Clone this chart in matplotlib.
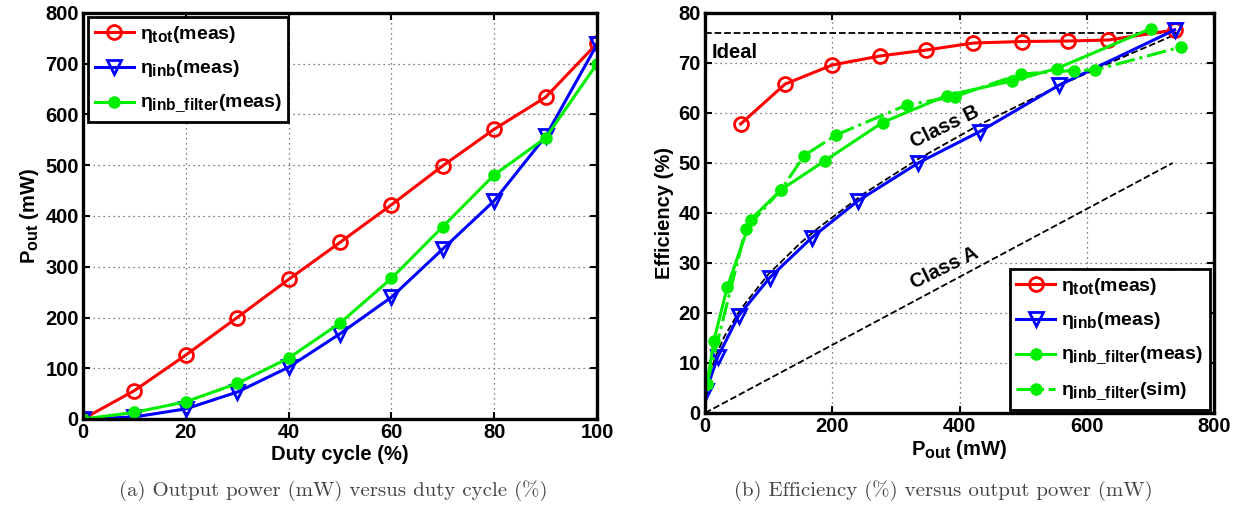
import numpy as np
import matplotlib
matplotlib.use('Agg')
import matplotlib.pyplot as plt
import matplotlib._mathtext as mt

mt.SHRINK_FACTOR = 0.8   # bigger sub-scripts, closer to the original

# ---- data ----
duty = [0, 10, 20, 30, 40, 50, 60, 70, 80, 90, 100]
p_tot = [0, 56, 126, 200, 275, 348, 422, 499, 571, 634, 740]
p_inb = [0, 4, 20, 53, 102, 168, 240, 335, 430, 557, 738]
p_filt = [0, 13, 34, 70, 120, 189, 277, 379, 481, 554, 700]

pout_tot = [56, 126, 200, 275, 348, 422, 499, 571, 634, 738]
eff_tot = [57.8, 65.8, 69.6, 71.4, 72.6, 74.0, 74.3, 74.4, 74.6, 76.6]
pout_inb = [2, 20, 53, 102, 168, 240, 335, 432, 557, 738]
eff_inb = [4.5, 11.2, 19.5, 27.1, 35.1, 42.4, 50.0, 56.3, 65.6, 76.6]
pout_filt = [3, 14, 35, 72, 120, 189, 279, 380, 482, 553, 701]
eff_filt = [5.8, 14.5, 25.2, 38.7, 44.7, 50.5, 58.1, 63.5, 66.4, 68.9, 76.9]
pout_sim = [3, 64, 120, 156, 206, 317, 393, 496, 580, 613, 748]
eff_sim = [5.8, 36.8, 44.7, 51.5, 55.6, 61.6, 63.3, 67.8, 68.5, 68.6, 73.2]

# theoretical curves
ideal_x = [0, 745]
ideal_y = [76.1, 76.1]
classb_x = [0, 5, 15, 30, 55, 100, 150, 178, 250, 335, 432, 557, 650, 745]
classb_y = [0, 6.2, 10.8, 15.2, 20.6, 27.8, 34.0, 37.0, 43.9, 50.8, 57.7, 65.5, 70.8, 76.0]
classa_x = [0, 735]
classa_y = [0, 50]

plt.rcParams['font.family'] = ['Liberation Sans', 'DejaVu Sans']
plt.rcParams['font.weight'] = 'bold'
plt.rcParams['mathtext.fontset'] = 'custom'
plt.rcParams['mathtext.rm'] = 'Liberation Sans'
plt.rcParams['mathtext.it'] = 'Liberation Sans'
plt.rcParams['mathtext.bf'] = 'Liberation Sans:bold'

fig = plt.figure(figsize=(12.45, 5.08), dpi=100)
ax1 = fig.add_axes([83/1245, 1-419/508, (597-83)/1245, (419-13)/508])
ax2 = fig.add_axes([705/1245, 1-413/508, (1214-705)/1245, (413-13)/508])

lw = 2.2
fs = 14.5   # axis labels
tfs = 14.5  # tick labels
lfs = 14    # legend

def style(ax):
    ax.grid(True, color='#555555', linestyle=(0, (1, 3)), linewidth=0.9)
    ax.tick_params(direction='in', top=True, right=True, length=5, width=1.5, labelsize=tfs, pad=3)
    for s in ax.spines.values():
        s.set_linewidth(2.4)
    for lab in ax.get_xticklabels() + ax.get_yticklabels():
        lab.set_fontweight('bold')

def legend(ax, **kw):
    leg = ax.legend(bbox_transform=fig.transFigure, fontsize=lfs, frameon=True, fancybox=False,
                    handlelength=2.0, handletextpad=0.3, borderpad=0.35, labelspacing=0.7,
                    borderaxespad=0, framealpha=1, **kw)
    leg.get_frame().set_edgecolor('black')
    leg.get_frame().set_linewidth(2.0)
    return leg

# (a)
ax1.plot(duty, p_tot, '-o', color='red', lw=lw, ms=10, mfc='none', mew=2, label=r'$\eta_{\mathbf{tot}}$(meas)')
ax1.plot(duty, p_inb, '-v', color='blue', lw=lw, ms=10, mfc='none', mew=2, label=r'$\eta_{\mathbf{inb}}$(meas)')
ax1.plot(duty, p_filt, '-o', color='#00ee00', lw=lw, ms=8, label=r'$\eta_{\mathbf{inb\_filter}}$(meas)')
ax1.set_xlim(0, 100)
ax1.set_ylim(0, 800)
ax1.set_xticks(range(0, 101, 20))
ax1.set_yticks(range(0, 801, 100))
style(ax1)
ax1.set_xlabel('Duty cycle (%)', fontsize=fs, fontweight='bold', labelpad=2)
ax1.set_ylabel(r'$\mathbf{P}_{\mathbf{out}}$ (mW)', fontsize=fs, fontweight='bold', labelpad=3)
legend(ax1, loc='upper left', bbox_to_anchor=(88/1245, 1-17/508))

# (b)
ax2.plot(ideal_x, ideal_y, '--', color='black', lw=1.3)
ax2.plot(classb_x, classb_y, '--', color='black', lw=1.3)
ax2.plot(classa_x, classa_y, '--', color='black', lw=1.3)
ax2.plot(pout_tot, eff_tot, '-o', color='red', lw=lw, ms=10, mfc='none', mew=2, label=r'$\eta_{\mathbf{tot}}$(meas)')
ax2.plot(pout_inb, eff_inb, '-v', color='blue', lw=lw, ms=10, mfc='none', mew=2, label=r'$\eta_{\mathbf{inb}}$(meas)')
ax2.plot(pout_filt, eff_filt, '-o', color='#00ee00', lw=lw, ms=8, label=r'$\eta_{\mathbf{inb\_filter}}$(meas)')
ax2.plot(pout_sim, eff_sim, '-.o', color='#00ee00', lw=lw, ms=8, label=r'$\eta_{\mathbf{inb\_filter}}$(sim)')
ax2.text(11, 72.2, 'Ideal', fontsize=fs, fontweight='bold', ha='left', va='center')
ax2.text(377, 57.2, 'Class B', fontsize=fs, fontweight='bold', ha='center', va='center', rotation=26)
ax2.text(377, 29, 'Class A', fontsize=fs, fontweight='bold', ha='center', va='center', rotation=26)
ax2.set_xlim(0, 800)
ax2.set_ylim(0, 80)
ax2.set_xticks(range(0, 801, 200))
ax2.set_yticks(range(0, 81, 10))
style(ax2)
ax2.set_xlabel(r'$\mathbf{P}_{\mathbf{out}}$ (mW)', fontsize=fs, fontweight='bold', labelpad=1)
ax2.set_ylabel('Efficiency (%)', fontsize=fs, fontweight='bold', labelpad=3)
legend(ax2, loc='lower right', bbox_to_anchor=(1210/1245, 1-410/508))

# captions
fig.text(333/1245, 1-491/508, '(a) Output power (mW) versus duty cycle (%)', family='cmr10',
         fontweight='normal', fontsize=15, color='#444444', ha='center', va='center')
fig.text(943/1245, 1-491/508, '(b) Efficiency (%) versus output power (mW)', family='cmr10',
         fontweight='normal', fontsize=15, color='#444444', ha='center', va='center')

fig.savefig('out.png', dpi=100)
